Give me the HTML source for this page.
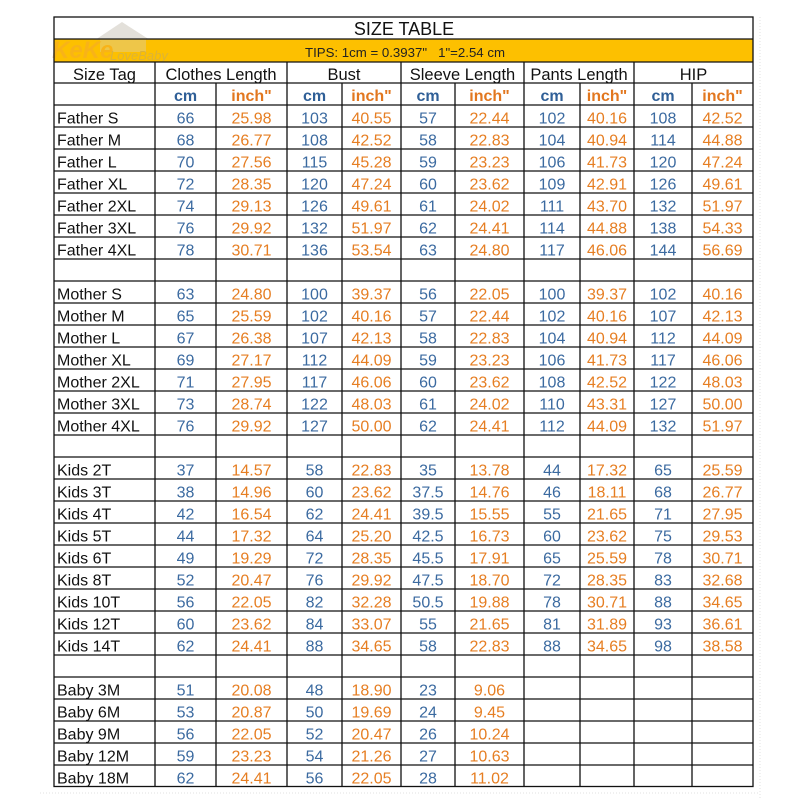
<!DOCTYPE html>
<html><head><meta charset="utf-8"><style>
html,body{margin:0;padding:0;background:#fff;}
svg{display:block;}
text{font-family:"Liberation Sans",Arial,sans-serif;}
.l{font-size:16px;fill:#111;}
.h{font-size:16.5px;fill:#111;text-anchor:middle;}
.b{font-size:16px;fill:#3b6aa0;text-anchor:middle;}
.o{font-size:16px;fill:#e67e22;text-anchor:middle;}
.ub{font-size:16px;font-weight:bold;fill:#2f5f97;text-anchor:middle;}
.uo{font-size:16px;font-weight:bold;fill:#e2771f;text-anchor:middle;}
</style></head><body>
<svg width="800" height="800" viewBox="0 0 800 800" xmlns="http://www.w3.org/2000/svg">
<rect x="0" y="0" width="800" height="800" fill="#fff"/>
<g stroke="#e2e2e2" stroke-width="1" stroke-dasharray="1,2">
<line x1="760" y1="17" x2="760" y2="800"/>
<line x1="40" y1="793" x2="760" y2="793"/>
</g>
<rect x="54" y="39" width="699" height="23" fill="#fdc000"/>
<g opacity="0.38">
<polygon points="95,40 122,22 150,40" fill="#b8b0a0"/>
<rect x="100" y="38" width="46" height="14" fill="#d8d0c0"/>
<text x="52" y="58" style="font-size:24px;font-weight:bold;font-style:italic;fill:#f0a040;">KeKe</text>
<text x="110" y="60" style="font-size:13px;font-style:italic;fill:#a8a090;">LoveBaby</text>
</g>
<g stroke="#111" stroke-width="1.3" fill="none">
<rect x="54" y="17" width="699" height="769.5"/>
<line x1="54" y1="39" x2="753" y2="39"/>
<line x1="54" y1="62" x2="753" y2="62"/>
<line x1="54" y1="83" x2="753" y2="83"/>
<line x1="54" y1="105" x2="753" y2="105"/>
<line x1="54" y1="127" x2="753" y2="127"/>
<line x1="54" y1="149" x2="753" y2="149"/>
<line x1="54" y1="171" x2="753" y2="171"/>
<line x1="54" y1="193" x2="753" y2="193"/>
<line x1="54" y1="215" x2="753" y2="215"/>
<line x1="54" y1="237" x2="753" y2="237"/>
<line x1="54" y1="259" x2="753" y2="259"/>
<line x1="54" y1="281" x2="753" y2="281"/>
<line x1="54" y1="303" x2="753" y2="303"/>
<line x1="54" y1="325" x2="753" y2="325"/>
<line x1="54" y1="347" x2="753" y2="347"/>
<line x1="54" y1="369" x2="753" y2="369"/>
<line x1="54" y1="391" x2="753" y2="391"/>
<line x1="54" y1="413" x2="753" y2="413"/>
<line x1="54" y1="435" x2="753" y2="435"/>
<line x1="54" y1="457" x2="753" y2="457"/>
<line x1="54" y1="479" x2="753" y2="479"/>
<line x1="54" y1="501" x2="753" y2="501"/>
<line x1="54" y1="523" x2="753" y2="523"/>
<line x1="54" y1="545" x2="753" y2="545"/>
<line x1="54" y1="567" x2="753" y2="567"/>
<line x1="54" y1="589" x2="753" y2="589"/>
<line x1="54" y1="611" x2="753" y2="611"/>
<line x1="54" y1="633" x2="753" y2="633"/>
<line x1="54" y1="655" x2="753" y2="655"/>
<line x1="54" y1="677" x2="753" y2="677"/>
<line x1="54" y1="699" x2="753" y2="699"/>
<line x1="54" y1="721" x2="753" y2="721"/>
<line x1="54" y1="743" x2="753" y2="743"/>
<line x1="54" y1="765" x2="753" y2="765"/>
<line x1="155" y1="62" x2="155" y2="786"/>
<line x1="287" y1="62" x2="287" y2="786"/>
<line x1="401" y1="62" x2="401" y2="786"/>
<line x1="524" y1="62" x2="524" y2="786"/>
<line x1="634" y1="62" x2="634" y2="786"/>
<line x1="216" y1="83" x2="216" y2="786"/>
<line x1="342" y1="83" x2="342" y2="786"/>
<line x1="455" y1="83" x2="455" y2="786"/>
<line x1="580" y1="83" x2="580" y2="786"/>
<line x1="692" y1="83" x2="692" y2="786"/>
</g>
<text x="404" y="35" style="font-size:18px;fill:#111;text-anchor:middle;">SIZE TABLE</text>
<text x="305" y="57" textLength="200" lengthAdjust="spacingAndGlyphs" style="font-size:13px;fill:#222;white-space:pre;" xml:space="preserve">TIPS: 1cm = 0.3937"   1"=2.54 cm</text>
<text class="h" x="104.5" y="80">Size Tag</text>
<text class="h" x="221" y="80">Clothes Length</text>
<text class="h" x="344" y="80">Bust</text>
<text class="h" x="462.5" y="80">Sleeve Length</text>
<text class="h" x="579" y="80">Pants Length</text>
<text class="h" x="693.5" y="80">HIP</text>
<g>
<text class="ub" x="185.5" y="101">cm</text><text class="uo" x="251.5" y="101">inch"</text>
<text class="ub" x="314.5" y="101">cm</text><text class="uo" x="371.5" y="101">inch"</text>
<text class="ub" x="428" y="101">cm</text><text class="uo" x="489.5" y="101">inch"</text>
<text class="ub" x="552" y="101">cm</text><text class="uo" x="607" y="101">inch"</text>
<text class="ub" x="663" y="101">cm</text><text class="uo" x="722.5" y="101">inch"</text>
</g>
<g transform="translate(0,123.5)">
<text class="l" x="57" y="0">Father S</text><text class="b" x="185.5" y="0">66</text><text class="o" x="251.5" y="0">25.98</text><text class="b" x="314.5" y="0">103</text><text class="o" x="371.5" y="0">40.55</text><text class="b" x="428" y="0">57</text><text class="o" x="489.5" y="0">22.44</text><text class="b" x="552" y="0">102</text><text class="o" x="607" y="0">40.16</text><text class="b" x="663" y="0">108</text><text class="o" x="722.5" y="0">42.52</text>
<text class="l" x="57" y="22">Father M</text><text class="b" x="185.5" y="22">68</text><text class="o" x="251.5" y="22">26.77</text><text class="b" x="314.5" y="22">108</text><text class="o" x="371.5" y="22">42.52</text><text class="b" x="428" y="22">58</text><text class="o" x="489.5" y="22">22.83</text><text class="b" x="552" y="22">104</text><text class="o" x="607" y="22">40.94</text><text class="b" x="663" y="22">114</text><text class="o" x="722.5" y="22">44.88</text>
<text class="l" x="57" y="44">Father L</text><text class="b" x="185.5" y="44">70</text><text class="o" x="251.5" y="44">27.56</text><text class="b" x="314.5" y="44">115</text><text class="o" x="371.5" y="44">45.28</text><text class="b" x="428" y="44">59</text><text class="o" x="489.5" y="44">23.23</text><text class="b" x="552" y="44">106</text><text class="o" x="607" y="44">41.73</text><text class="b" x="663" y="44">120</text><text class="o" x="722.5" y="44">47.24</text>
<text class="l" x="57" y="66">Father XL</text><text class="b" x="185.5" y="66">72</text><text class="o" x="251.5" y="66">28.35</text><text class="b" x="314.5" y="66">120</text><text class="o" x="371.5" y="66">47.24</text><text class="b" x="428" y="66">60</text><text class="o" x="489.5" y="66">23.62</text><text class="b" x="552" y="66">109</text><text class="o" x="607" y="66">42.91</text><text class="b" x="663" y="66">126</text><text class="o" x="722.5" y="66">49.61</text>
<text class="l" x="57" y="88">Father 2XL</text><text class="b" x="185.5" y="88">74</text><text class="o" x="251.5" y="88">29.13</text><text class="b" x="314.5" y="88">126</text><text class="o" x="371.5" y="88">49.61</text><text class="b" x="428" y="88">61</text><text class="o" x="489.5" y="88">24.02</text><text class="b" x="552" y="88">111</text><text class="o" x="607" y="88">43.70</text><text class="b" x="663" y="88">132</text><text class="o" x="722.5" y="88">51.97</text>
<text class="l" x="57" y="110">Father 3XL</text><text class="b" x="185.5" y="110">76</text><text class="o" x="251.5" y="110">29.92</text><text class="b" x="314.5" y="110">132</text><text class="o" x="371.5" y="110">51.97</text><text class="b" x="428" y="110">62</text><text class="o" x="489.5" y="110">24.41</text><text class="b" x="552" y="110">114</text><text class="o" x="607" y="110">44.88</text><text class="b" x="663" y="110">138</text><text class="o" x="722.5" y="110">54.33</text>
<text class="l" x="57" y="132">Father 4XL</text><text class="b" x="185.5" y="132">78</text><text class="o" x="251.5" y="132">30.71</text><text class="b" x="314.5" y="132">136</text><text class="o" x="371.5" y="132">53.54</text><text class="b" x="428" y="132">63</text><text class="o" x="489.5" y="132">24.80</text><text class="b" x="552" y="132">117</text><text class="o" x="607" y="132">46.06</text><text class="b" x="663" y="132">144</text><text class="o" x="722.5" y="132">56.69</text>
</g>
<g transform="translate(0,299.5)">
<text class="l" x="57" y="0">Mother S</text><text class="b" x="185.5" y="0">63</text><text class="o" x="251.5" y="0">24.80</text><text class="b" x="314.5" y="0">100</text><text class="o" x="371.5" y="0">39.37</text><text class="b" x="428" y="0">56</text><text class="o" x="489.5" y="0">22.05</text><text class="b" x="552" y="0">100</text><text class="o" x="607" y="0">39.37</text><text class="b" x="663" y="0">102</text><text class="o" x="722.5" y="0">40.16</text>
<text class="l" x="57" y="22">Mother M</text><text class="b" x="185.5" y="22">65</text><text class="o" x="251.5" y="22">25.59</text><text class="b" x="314.5" y="22">102</text><text class="o" x="371.5" y="22">40.16</text><text class="b" x="428" y="22">57</text><text class="o" x="489.5" y="22">22.44</text><text class="b" x="552" y="22">102</text><text class="o" x="607" y="22">40.16</text><text class="b" x="663" y="22">107</text><text class="o" x="722.5" y="22">42.13</text>
<text class="l" x="57" y="44">Mother L</text><text class="b" x="185.5" y="44">67</text><text class="o" x="251.5" y="44">26.38</text><text class="b" x="314.5" y="44">107</text><text class="o" x="371.5" y="44">42.13</text><text class="b" x="428" y="44">58</text><text class="o" x="489.5" y="44">22.83</text><text class="b" x="552" y="44">104</text><text class="o" x="607" y="44">40.94</text><text class="b" x="663" y="44">112</text><text class="o" x="722.5" y="44">44.09</text>
<text class="l" x="57" y="66">Mother XL</text><text class="b" x="185.5" y="66">69</text><text class="o" x="251.5" y="66">27.17</text><text class="b" x="314.5" y="66">112</text><text class="o" x="371.5" y="66">44.09</text><text class="b" x="428" y="66">59</text><text class="o" x="489.5" y="66">23.23</text><text class="b" x="552" y="66">106</text><text class="o" x="607" y="66">41.73</text><text class="b" x="663" y="66">117</text><text class="o" x="722.5" y="66">46.06</text>
<text class="l" x="57" y="88">Mother 2XL</text><text class="b" x="185.5" y="88">71</text><text class="o" x="251.5" y="88">27.95</text><text class="b" x="314.5" y="88">117</text><text class="o" x="371.5" y="88">46.06</text><text class="b" x="428" y="88">60</text><text class="o" x="489.5" y="88">23.62</text><text class="b" x="552" y="88">108</text><text class="o" x="607" y="88">42.52</text><text class="b" x="663" y="88">122</text><text class="o" x="722.5" y="88">48.03</text>
<text class="l" x="57" y="110">Mother 3XL</text><text class="b" x="185.5" y="110">73</text><text class="o" x="251.5" y="110">28.74</text><text class="b" x="314.5" y="110">122</text><text class="o" x="371.5" y="110">48.03</text><text class="b" x="428" y="110">61</text><text class="o" x="489.5" y="110">24.02</text><text class="b" x="552" y="110">110</text><text class="o" x="607" y="110">43.31</text><text class="b" x="663" y="110">127</text><text class="o" x="722.5" y="110">50.00</text>
<text class="l" x="57" y="132">Mother 4XL</text><text class="b" x="185.5" y="132">76</text><text class="o" x="251.5" y="132">29.92</text><text class="b" x="314.5" y="132">127</text><text class="o" x="371.5" y="132">50.00</text><text class="b" x="428" y="132">62</text><text class="o" x="489.5" y="132">24.41</text><text class="b" x="552" y="132">112</text><text class="o" x="607" y="132">44.09</text><text class="b" x="663" y="132">132</text><text class="o" x="722.5" y="132">51.97</text>
</g>
<g transform="translate(0,475.5)">
<text class="l" x="57" y="0">Kids 2T</text><text class="b" x="185.5" y="0">37</text><text class="o" x="251.5" y="0">14.57</text><text class="b" x="314.5" y="0">58</text><text class="o" x="371.5" y="0">22.83</text><text class="b" x="428" y="0">35</text><text class="o" x="489.5" y="0">13.78</text><text class="b" x="552" y="0">44</text><text class="o" x="607" y="0">17.32</text><text class="b" x="663" y="0">65</text><text class="o" x="722.5" y="0">25.59</text>
<text class="l" x="57" y="22">Kids 3T</text><text class="b" x="185.5" y="22">38</text><text class="o" x="251.5" y="22">14.96</text><text class="b" x="314.5" y="22">60</text><text class="o" x="371.5" y="22">23.62</text><text class="b" x="428" y="22">37.5</text><text class="o" x="489.5" y="22">14.76</text><text class="b" x="552" y="22">46</text><text class="o" x="607" y="22">18.11</text><text class="b" x="663" y="22">68</text><text class="o" x="722.5" y="22">26.77</text>
<text class="l" x="57" y="44">Kids 4T</text><text class="b" x="185.5" y="44">42</text><text class="o" x="251.5" y="44">16.54</text><text class="b" x="314.5" y="44">62</text><text class="o" x="371.5" y="44">24.41</text><text class="b" x="428" y="44">39.5</text><text class="o" x="489.5" y="44">15.55</text><text class="b" x="552" y="44">55</text><text class="o" x="607" y="44">21.65</text><text class="b" x="663" y="44">71</text><text class="o" x="722.5" y="44">27.95</text>
<text class="l" x="57" y="66">Kids 5T</text><text class="b" x="185.5" y="66">44</text><text class="o" x="251.5" y="66">17.32</text><text class="b" x="314.5" y="66">64</text><text class="o" x="371.5" y="66">25.20</text><text class="b" x="428" y="66">42.5</text><text class="o" x="489.5" y="66">16.73</text><text class="b" x="552" y="66">60</text><text class="o" x="607" y="66">23.62</text><text class="b" x="663" y="66">75</text><text class="o" x="722.5" y="66">29.53</text>
<text class="l" x="57" y="88">Kids 6T</text><text class="b" x="185.5" y="88">49</text><text class="o" x="251.5" y="88">19.29</text><text class="b" x="314.5" y="88">72</text><text class="o" x="371.5" y="88">28.35</text><text class="b" x="428" y="88">45.5</text><text class="o" x="489.5" y="88">17.91</text><text class="b" x="552" y="88">65</text><text class="o" x="607" y="88">25.59</text><text class="b" x="663" y="88">78</text><text class="o" x="722.5" y="88">30.71</text>
<text class="l" x="57" y="110">Kids 8T</text><text class="b" x="185.5" y="110">52</text><text class="o" x="251.5" y="110">20.47</text><text class="b" x="314.5" y="110">76</text><text class="o" x="371.5" y="110">29.92</text><text class="b" x="428" y="110">47.5</text><text class="o" x="489.5" y="110">18.70</text><text class="b" x="552" y="110">72</text><text class="o" x="607" y="110">28.35</text><text class="b" x="663" y="110">83</text><text class="o" x="722.5" y="110">32.68</text>
<text class="l" x="57" y="132">Kids 10T</text><text class="b" x="185.5" y="132">56</text><text class="o" x="251.5" y="132">22.05</text><text class="b" x="314.5" y="132">82</text><text class="o" x="371.5" y="132">32.28</text><text class="b" x="428" y="132">50.5</text><text class="o" x="489.5" y="132">19.88</text><text class="b" x="552" y="132">78</text><text class="o" x="607" y="132">30.71</text><text class="b" x="663" y="132">88</text><text class="o" x="722.5" y="132">34.65</text>
<text class="l" x="57" y="154">Kids 12T</text><text class="b" x="185.5" y="154">60</text><text class="o" x="251.5" y="154">23.62</text><text class="b" x="314.5" y="154">84</text><text class="o" x="371.5" y="154">33.07</text><text class="b" x="428" y="154">55</text><text class="o" x="489.5" y="154">21.65</text><text class="b" x="552" y="154">81</text><text class="o" x="607" y="154">31.89</text><text class="b" x="663" y="154">93</text><text class="o" x="722.5" y="154">36.61</text>
<text class="l" x="57" y="176">Kids 14T</text><text class="b" x="185.5" y="176">62</text><text class="o" x="251.5" y="176">24.41</text><text class="b" x="314.5" y="176">88</text><text class="o" x="371.5" y="176">34.65</text><text class="b" x="428" y="176">58</text><text class="o" x="489.5" y="176">22.83</text><text class="b" x="552" y="176">88</text><text class="o" x="607" y="176">34.65</text><text class="b" x="663" y="176">98</text><text class="o" x="722.5" y="176">38.58</text>
</g>
<g transform="translate(0,695.5)">
<text class="l" x="57" y="0">Baby 3M</text><text class="b" x="185.5" y="0">51</text><text class="o" x="251.5" y="0">20.08</text><text class="b" x="314.5" y="0">48</text><text class="o" x="371.5" y="0">18.90</text><text class="b" x="428" y="0">23</text><text class="o" x="489.5" y="0">9.06</text>
<text class="l" x="57" y="22">Baby 6M</text><text class="b" x="185.5" y="22">53</text><text class="o" x="251.5" y="22">20.87</text><text class="b" x="314.5" y="22">50</text><text class="o" x="371.5" y="22">19.69</text><text class="b" x="428" y="22">24</text><text class="o" x="489.5" y="22">9.45</text>
<text class="l" x="57" y="44">Baby 9M</text><text class="b" x="185.5" y="44">56</text><text class="o" x="251.5" y="44">22.05</text><text class="b" x="314.5" y="44">52</text><text class="o" x="371.5" y="44">20.47</text><text class="b" x="428" y="44">26</text><text class="o" x="489.5" y="44">10.24</text>
<text class="l" x="57" y="66">Baby 12M</text><text class="b" x="185.5" y="66">59</text><text class="o" x="251.5" y="66">23.23</text><text class="b" x="314.5" y="66">54</text><text class="o" x="371.5" y="66">21.26</text><text class="b" x="428" y="66">27</text><text class="o" x="489.5" y="66">10.63</text>
<text class="l" x="57" y="88">Baby 18M</text><text class="b" x="185.5" y="88">62</text><text class="o" x="251.5" y="88">24.41</text><text class="b" x="314.5" y="88">56</text><text class="o" x="371.5" y="88">22.05</text><text class="b" x="428" y="88">28</text><text class="o" x="489.5" y="88">11.02</text>
</g>
</svg>
</body></html>
